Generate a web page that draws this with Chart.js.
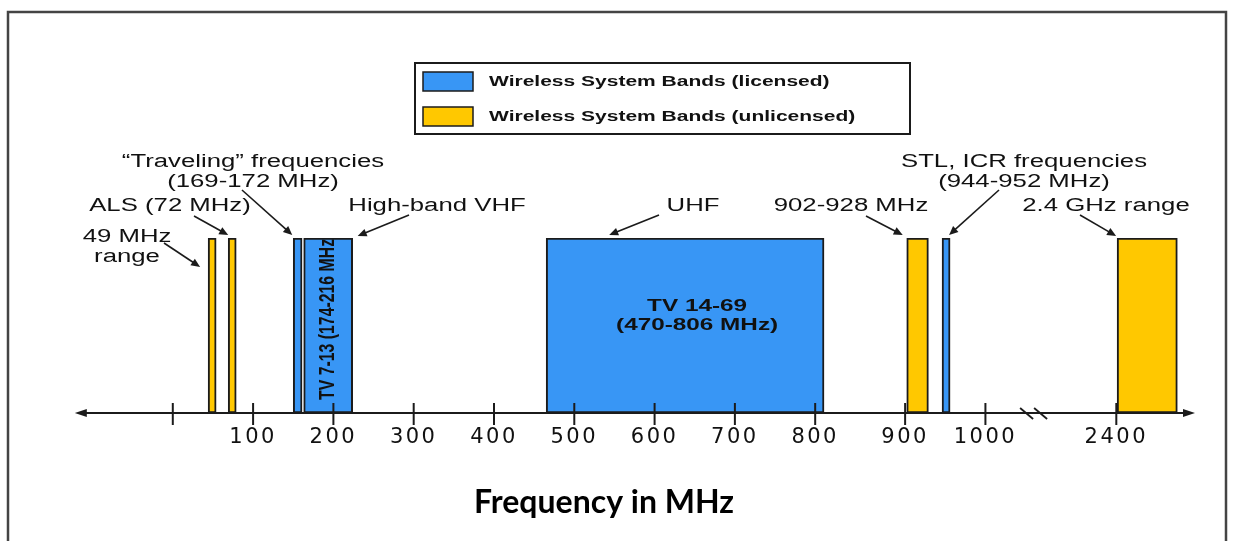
<!DOCTYPE html>
<html>
<head>
<meta charset="utf-8">
<title>Wireless system bands</title>
<script src="https://cdn.jsdelivr.net/npm/chart.js@4.4.1/dist/chart.umd.min.js"></script>
<style>
  html, body { margin: 0; padding: 0; background: #fff; }
  canvas { display: block; }
</style>
</head>
<body>
<canvas id="bandChart" width="1233" height="541"></canvas>
<script>
// Bands as drawn on the (not-to-scale) frequency axis of the picture
const bandNames = ['49 MHz range', 'ALS (72 MHz)', 'Traveling (169-172 MHz)', 'TV 7-13 (174-216 MHz)',
                   'TV 14-69 (470-806 MHz)', '902-928 MHz', 'STL, ICR (944-952 MHz)', '2.4 GHz range'];
const bandStart = [44, 69, 150, 163, 465, 914, 958, 1176];
const bandEnd = [54, 79, 161, 224, 811, 941, 968, 1251];
const bandLicensed = [false, false, true, true, true, false, true, false];

// Axis ticks (position on the drawn axis -> printed label)
const tickValues = [0, 100, 200, 300, 400, 500, 600, 700, 800, 912, 1012, 1175];
const tickLabels = ['', '100', '200', '300', '400', '500', '600', '700', '800', '900', '1000', '2400'];
const axisMin = -199, axisMax = 1273, arrowLeft = -122, breakAt = 1072;

const seriesLabels = ['Wireless System Bands (licensed)', 'Wireless System Bands (unlicensed)'];
const seriesColors = ['#3896f5', '#ffc800'];

const STRETCH = 1.43;
const FONT = '"Liberation Sans", Arial, sans-serif';
const INK = '#1b1b1b';

// callouts: text centre, tail of the arrow, and which bar edge the arrow points at
const notes = [
    { lines: ['49 MHz', 'range'], x: 127, y: 237, tail: [164, 243], band: 0, edge: 'start', dx: -8, dy: 29 },
    { lines: ['ALS (72 MHz)'], x: 170, y: 206, tail: [194, 216], band: 1, edge: 'start', dx: 0, dy: -3 },
    { lines: ['\u201CTraveling\u201D frequencies', '(169-172 MHz)'], x: 253, y: 162, tail: [242, 190], band: 2, edge: 'start', dx: -1, dy: -3 },
    { lines: ['High-band VHF'], x: 437, y: 206, tail: [409, 215], band: 3, edge: 'end', dx: 5, dy: -2 },
    { lines: ['UHF'], x: 693, y: 206, tail: [659, 215], band: 4, edge: 'start', dx: 63, dy: -3 },
    { lines: ['902-928 MHz'], x: 851, y: 206, tail: [866, 216], band: 5, edge: 'start', dx: -4, dy: -3 },
    { lines: ['STL, ICR frequencies', '(944-952 MHz)'], x: 1024, y: 162, tail: [999, 190], band: 6, edge: 'end', dx: -1, dy: -3 },
    { lines: ['2.4 GHz range'], x: 1106, y: 206, tail: [1080, 215], band: 7, edge: 'start', dx: -1, dy: -2 }
];

function wideText(ctx, text, x, y, font, sx, align) {
    ctx.save();
    ctx.translate(x, y);
    ctx.scale(sx, 1);
    ctx.font = font;
    ctx.fillStyle = '#111';
    ctx.textAlign = align || 'center';
    ctx.textBaseline = 'middle';
    ctx.fillText(text, 0, 0);
    ctx.restore();
}

function arrow(ctx, x1, y1, x2, y2) {
    const a = Math.atan2(y2 - y1, x2 - x1);
    const len = 9, half = 4;
    ctx.beginPath();
    ctx.moveTo(x1, y1);
    ctx.lineTo(x2 - Math.cos(a) * len * 0.8, y2 - Math.sin(a) * len * 0.8);
    ctx.stroke();
    ctx.beginPath();
    ctx.moveTo(x2, y2);
    ctx.lineTo(x2 - Math.cos(a) * len - Math.sin(a) * half, y2 - Math.sin(a) * len + Math.cos(a) * half);
    ctx.lineTo(x2 - Math.cos(a) * len + Math.sin(a) * half, y2 - Math.sin(a) * len - Math.cos(a) * half);
    ctx.closePath();
    ctx.fill();
}

function makeData(licensed) {
    const out = [];
    for (let i = 0; i < bandNames.length; i++) {
        if (bandLicensed[i] === licensed) out.push({ x: [bandStart[i], bandEnd[i]], y: 'bands', name: bandNames[i] });
    }
    return out;
}

const figurePlugin = {
    id: 'figure',
    beforeDraw(chart) {
        const ctx = chart.ctx;
        ctx.save();
        ctx.fillStyle = '#fff';
        ctx.fillRect(0, 0, chart.width, chart.height);
        ctx.strokeStyle = '#444';
        ctx.lineWidth = 2.5;
        ctx.beginPath();
        ctx.moveTo(8, chart.height);
        ctx.lineTo(8, 12);
        ctx.lineTo(1226, 12);
        ctx.lineTo(1226, chart.height);
        ctx.stroke();
        ctx.restore();
    },
    afterDatasetsDraw(chart) {
        const ctx = chart.ctx;
        const xs = chart.scales.x;
        const area = chart.chartArea;
        const y0 = area.bottom;
        ctx.save();

        // rotated label inside the TV 7-13 bar
        const l3 = xs.getPixelForValue(bandStart[3]), r3 = xs.getPixelForValue(bandEnd[3]);
        ctx.save();
        ctx.beginPath();
        ctx.rect(l3, area.top + 1, r3 - l3, y0 - area.top);
        ctx.clip();
        ctx.translate((l3 + r3) / 2, y0 - 13);
        ctx.rotate(-Math.PI / 2);
        ctx.scale(0.72, 1);
        ctx.font = 'bold 22px ' + FONT;
        ctx.fillStyle = '#111';
        ctx.textAlign = 'left';
        ctx.textBaseline = 'middle';
        ctx.fillText('TV 7-13 (174-216 MHz)', 0, 0);
        ctx.restore();

        // label inside the UHF bar
        const cx4 = (xs.getPixelForValue(bandStart[4]) + xs.getPixelForValue(bandEnd[4])) / 2 + 12;
        wideText(ctx, 'TV 14-69', cx4, area.top + 68, 'bold 17px ' + FONT, STRETCH);
        wideText(ctx, '(470-806 MHz)', cx4, area.top + 87, 'bold 17px ' + FONT, STRETCH);

        // axis line with arrow heads, tick marks and break
        ctx.strokeStyle = INK;
        ctx.fillStyle = INK;
        ctx.lineWidth = 2;
        const xl = xs.getPixelForValue(arrowLeft), xr = xs.getPixelForValue(axisMax);
        ctx.beginPath();
        ctx.moveTo(xl + 8, y0);
        ctx.lineTo(xr - 8, y0);
        ctx.stroke();
        [[xl, 1], [xr, -1]].forEach(([x, d]) => {
            ctx.beginPath();
            ctx.moveTo(x, y0);
            ctx.lineTo(x + d * 12, y0 - 4);
            ctx.lineTo(x + d * 12, y0 + 4);
            ctx.closePath();
            ctx.fill();
        });
        tickValues.forEach(v => {
            const x = xs.getPixelForValue(v);
            ctx.beginPath();
            ctx.moveTo(x, y0 - 10);
            ctx.lineTo(x, y0 + 12);
            ctx.stroke();
        });
        const xb = xs.getPixelForValue(breakAt);
        ctx.lineWidth = 1.8;
        [-7, 7].forEach(o => {
            ctx.beginPath();
            ctx.moveTo(xb + o - 6.5, y0 - 5);
            ctx.lineTo(xb + o + 6.5, y0 + 6);
            ctx.stroke();
        });

        // callouts
        ctx.lineWidth = 1.6;
        notes.forEach(n => {
            n.lines.forEach((t, k) => wideText(ctx, t, n.x, n.y + k * 20, '18px ' + FONT, STRETCH));
            const ex = xs.getPixelForValue(n.edge === 'start' ? bandStart[n.band] : bandEnd[n.band]);
            arrow(ctx, n.tail[0], n.tail[1], ex + n.dx, area.top + n.dy);
        });

        // legend box
        ctx.lineWidth = 2;
        ctx.strokeRect(415, 63, 495, 71);
        chart.data.datasets.forEach((ds, k) => {
            const y = 72 + k * 35;
            ctx.fillStyle = ds.backgroundColor;
            ctx.fillRect(423, y, 50, 19);
            ctx.lineWidth = 1.5;
            ctx.strokeRect(423, y, 50, 19);
            wideText(ctx, ds.label, 489, y + 10, 'bold 15px ' + FONT, 1.4, 'left');
        });
        ctx.restore();

        // the tick labels (drawn next, on layer z=1) are spread out like the original
        ctx.letterSpacing = '2.5px';
    },
    afterDraw(chart) {
        chart.ctx.letterSpacing = '0px';
    }
};

const ctx = document.getElementById('bandChart').getContext('2d');
const bandChart = new Chart(ctx, {
    type: 'bar',
    data: {
        labels: ['bands'],
        datasets: [
            { label: seriesLabels[0], data: makeData(true), backgroundColor: seriesColors[0] },
            { label: seriesLabels[1], data: makeData(false), backgroundColor: seriesColors[1] }
        ]
    },
    options: {
        indexAxis: 'y',
        responsive: false,
        animation: false,
        layout: { padding: { left: 13, right: 38, top: 238, bottom: 0 } },
        datasets: {
            bar: {
                grouped: false,
                categoryPercentage: 1,
                barPercentage: 1,
                borderWidth: 2,
                borderColor: INK,
                borderSkipped: false
            }
        },
        scales: {
            x: {
                type: 'linear',
                min: axisMin,
                max: axisMax,
                grid: { display: false, drawTicks: false },
                border: { display: false },
                afterBuildTicks: (scale) => { scale.ticks = tickValues.map(v => ({ value: v })); },
                afterFit: (scale) => { scale.height = 128; },
                ticks: {
                    z: 1,
                    autoSkip: false,
                    maxRotation: 0,
                    padding: 12,
                    color: '#111',
                    font: { family: '"DejaVu Sans", sans-serif', size: 21 },
                    callback: (value) => {
                        const i = tickValues.indexOf(value);
                        return i >= 0 ? tickLabels[i] : '';
                    }
                },
                title: {
                    display: true,
                    text: 'Frequency in MHz',
                    color: '#000',
                    font: { family: 'Lato', weight: 'bold', size: 32 },
                    padding: { top: 0, bottom: 19 }
                }
            },
            y: { display: false }
        },
        plugins: {
            legend: { display: false },
            tooltip: { enabled: false }
        }
    },
    plugins: [figurePlugin]
});
</script>
</body>
</html>
